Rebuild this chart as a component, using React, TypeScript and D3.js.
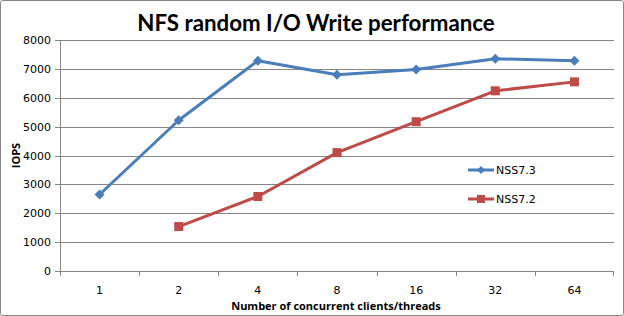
import React from "react";
import * as d3 from "d3";

const categories = ["1", "2", "4", "8", "16", "32", "64"];
const nss73: (number | null)[] = [2650, 5220, 7280, 6800, 6980, 7350, 7280];
const nss72: (number | null)[] = [null, 1540, 2580, 4100, 5170, 6240, 6550];
const yTicks = [0, 1000, 2000, 3000, 4000, 5000, 6000, 7000, 8000];
const seriesNames = ["NSS7.3", "NSS7.2"];

const W = 624, H = 316;
const M = { left: 60, right: 10, top: 40, bottom: 45 };
const FONT = "'DejaVu Sans', sans-serif";

export default function App() {
  const x = d3.scaleBand<string>().domain(categories).range([M.left, W - M.right]).padding(0);
  const y = d3.scaleLinear().domain([0, 8000]).range([H - M.bottom, M.top]);
  const cx = (c: string) => (x(c) as number) + x.bandwidth() / 2;
  const line = d3
    .line<number | null>()
    .defined((d) => d !== null)
    .x((_, i) => cx(categories[i]))
    .y((d) => y(d as number));
  const blue = "#4a7ebb";
  const red = "#be4b48";
  const grid = "#868686";
  const x0 = M.left, x1 = W - M.right, yb = y(0);
  const diamond = (px: number, py: number, s = 5) =>
    `M${px},${py - s}L${px + s},${py}L${px},${py + s}L${px - s},${py}Z`;

  return (
    <svg width={W} height={H} style={{ position: "absolute", left: 0, top: 0, background: "#fff" }} fontFamily={FONT}>
      <rect x={0.5} y={0.5} width={W - 1} height={H - 1} fill="#fff" stroke={grid} strokeWidth={1} rx={2} />
      <text x={316} y={31} textAnchor="middle" fontSize={22.3} fontWeight="bold" fontFamily="Lato, sans-serif">
        NFS random I/O Write performance
      </text>
      {yTicks.map((t) => (
        <g key={t}>
          {t > 0 && <line x1={x0} x2={x1} y1={Math.round(y(t)) + 0.5} y2={Math.round(y(t)) + 0.5} stroke={grid} />}
          <line x1={x0 - 5} x2={x0} y1={Math.round(y(t)) + 0.5} y2={Math.round(y(t)) + 0.5} stroke={grid} />
          <text x={51} y={y(t) + 4} textAnchor="end" fontSize={11} fill="#000">
            {t}
          </text>
        </g>
      ))}
      <line x1={x0 + 0.5} x2={x0 + 0.5} y1={y(8000)} y2={yb} stroke={grid} />
      <line x1={x0} x2={x1} y1={Math.round(yb) + 0.5} y2={Math.round(yb) + 0.5} stroke={grid} />
      {categories.map((c, i) => (
        <g key={c}>
          <line x1={Math.round(x(c) as number) + 0.5} x2={Math.round(x(c) as number) + 0.5} y1={yb} y2={yb + 5} stroke={grid} />
          {i === categories.length - 1 && (
            <line x1={x1 - 0.5} x2={x1 - 0.5} y1={yb} y2={yb + 5} stroke={grid} />
          )}
          <text x={cx(c)} y={294} textAnchor="middle" fontSize={11}>
            {c}
          </text>
        </g>
      ))}
      <text x={336} y={310} textAnchor="middle" fontSize={11} fontWeight="bold" fontFamily="'Open Sans', sans-serif">
        Number of concurrent clients/threads
      </text>
      <text transform={`translate(20,${(M.top + yb) / 2}) rotate(-90)`} textAnchor="middle" fontSize={11} fontWeight="bold" fontFamily="'Open Sans', sans-serif">
        IOPS
      </text>
      <path d={line(nss72) || ""} fill="none" stroke={red} strokeWidth={3} strokeLinejoin="round" />
      <path d={line(nss73) || ""} fill="none" stroke={blue} strokeWidth={3} strokeLinejoin="round" />
      {nss73.map((v, i) =>
        v === null ? null : <path key={"b" + i} d={diamond(cx(categories[i]), y(v))} fill={blue} />
      )}
      {nss72.map((v, i) =>
        v === null ? null : (
          <rect key={"r" + i} x={cx(categories[i]) - 4.5} y={y(v) - 4.5} width={9} height={9} fill={red} />
        )
      )}
      {seriesNames.map((n, i) => {
        const ly = 170 + i * 29;
        const col = i === 0 ? blue : red;
        return (
          <g key={n}>
            <line x1={468} x2={494} y1={ly} y2={ly} stroke={col} strokeWidth={3} />
            {i === 0 ? <path d={diamond(481, ly, 4)} fill={col} /> : <rect x={477} y={ly - 4} width={8} height={8} fill={col} />}
            <text x={496} y={ly + 4} fontSize={11}>
              {n}
            </text>
          </g>
        );
      })}
    </svg>
  );
}
